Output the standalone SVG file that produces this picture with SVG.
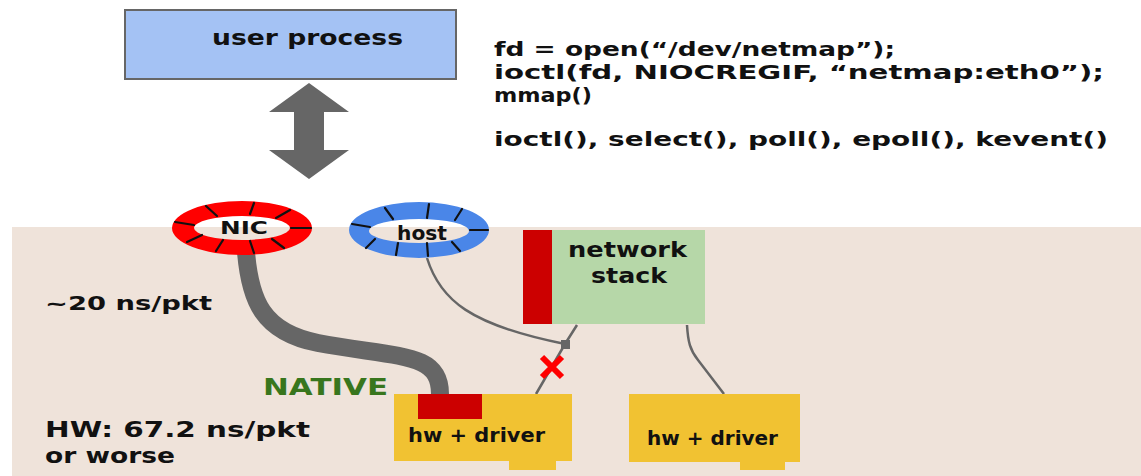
<svg xmlns="http://www.w3.org/2000/svg" width="1141" height="476" viewBox="0 0 1141 476">
<style>
text{font-family:"DejaVu Sans","Liberation Sans",sans-serif;font-weight:bold;fill:#111}
.ring-tick{stroke:#111;stroke-width:2.2;stroke-linecap:round}
.hw{fill:#f1c232}
.thin{fill:none;stroke:#666;stroke-width:2.5}
</style>
<rect x="0" y="0" width="1141" height="476" fill="#ffffff"/>
<rect id="kernel-area" x="12" y="227" width="1129" height="249" fill="#efe3da"/>

<g id="user-process">
<rect x="125" y="10" width="331" height="69" fill="#a4c2f4" stroke="#666" stroke-width="2"/>
<text x="212" y="45" font-size="21" textLength="191" lengthAdjust="spacingAndGlyphs">user process</text>
</g>

<g id="api-text">
<text x="494" y="56" font-size="19.5" textLength="401" lengthAdjust="spacingAndGlyphs">fd = open(“/dev/netmap”);</text>
<text x="494" y="79" font-size="19.5" textLength="610" lengthAdjust="spacingAndGlyphs">ioctl(fd, NIOCREGIF, “netmap:eth0”);</text>
<text x="494" y="102" font-size="19.5" textLength="98" lengthAdjust="spacingAndGlyphs">mmap()</text>
<text x="494" y="146" font-size="20" textLength="614" lengthAdjust="spacingAndGlyphs">ioctl(), select(), poll(), epoll(), kevent()</text>
</g>

<g id="connectors">
<polygon points="309,83 349,112 324,112 324,150 349,150 309,179 269,150 294,150 294,112 269,112" fill="#666"/>
<path d="M246 252 C250 300 262 332 318 343 C400 358 440 352 440 394" fill="none" stroke="#666" stroke-width="18"/>
<path class="thin" d="M427 258 C440 300 470 325 565 344"/>
<path class="thin" d="M577 325 L565 344 L536 394"/>
<path class="thin" d="M687 325 C688 342 690 350 698 360 L724 394"/>
<rect x="561" y="340" width="9" height="9" fill="#666"/>
<path d="M542 357 L562 377 M562 357 L542 377" stroke="#ff0000" stroke-width="6"/>
</g>

<g id="nic-ring">
<path d="M172,228 a70,27 0 1,0 140,0 a70,27 0 1,0 -140,0 Z M194,228 a48,12 0 1,0 96,0 a48,12 0 1,0 -96,0 Z" fill="#ff0000" fill-rule="evenodd"/>
<g class="ring-tick">
<line x1="194" y1="225" x2="175" y2="222"/>
<line x1="217" y1="216" x2="206" y2="206"/>
<line x1="250" y1="214" x2="254" y2="203"/>
<line x1="276" y1="218" x2="290" y2="210"/>
<line x1="291" y1="228" x2="311" y2="228"/>
<line x1="272" y1="239" x2="284" y2="248"/>
<line x1="250" y1="241" x2="254" y2="253"/>
<line x1="223" y1="240" x2="216" y2="251"/>
<line x1="202" y1="235" x2="187" y2="242"/>
</g>
<text x="220" y="234" font-size="18" textLength="48" lengthAdjust="spacingAndGlyphs">NIC</text>
</g>

<g id="host-ring">
<path d="M349,230 a70,28 0 1,0 140,0 a70,28 0 1,0 -140,0 Z M369,231 a50,12 0 1,0 100,0 a50,12 0 1,0 -100,0 Z" fill="#4a86e8" fill-rule="evenodd"/>
<g class="ring-tick">
<line x1="370" y1="227" x2="352" y2="224"/>
<line x1="393" y1="219" x2="385" y2="208"/>
<line x1="427" y1="218" x2="429" y2="204"/>
<line x1="455" y1="220" x2="462" y2="209"/>
<line x1="470" y1="230" x2="488" y2="230"/>
<line x1="452" y1="242" x2="460" y2="251"/>
<line x1="427" y1="243" x2="428" y2="256"/>
<line x1="398" y1="243" x2="396" y2="255"/>
<line x1="375" y1="239" x2="366" y2="248"/>
</g>
<text x="397" y="240" font-size="20" textLength="50" lengthAdjust="spacingAndGlyphs">host</text>
</g>

<g id="network-stack">
<rect x="523" y="230" width="182" height="94" fill="#b6d7a8"/>
<rect x="523" y="230" width="29" height="94" fill="#cc0000"/>
<text x="568" y="257" font-size="21" textLength="119" lengthAdjust="spacingAndGlyphs">network</text>
<text x="591" y="283" font-size="21" textLength="76" lengthAdjust="spacingAndGlyphs">stack</text>
</g>

<g id="hw-driver-1">
<rect class="hw" x="394" y="394" width="178" height="67"/>
<rect class="hw" x="509" y="461" width="47" height="9"/>
<rect x="418" y="394" width="64" height="25" fill="#cc0000"/>
<text x="408" y="442" font-size="19" textLength="137" lengthAdjust="spacingAndGlyphs">hw + driver</text>
</g>

<g id="hw-driver-2">
<rect class="hw" x="629" y="394" width="171" height="68"/>
<rect class="hw" x="740" y="462" width="45" height="8"/>
<text x="647" y="445" font-size="19" textLength="131" lengthAdjust="spacingAndGlyphs">hw + driver</text>
</g>

<g id="labels">
<text x="45" y="310" font-size="20" textLength="167" lengthAdjust="spacingAndGlyphs">~20 ns/pkt</text>
<text x="263" y="395" font-size="23" textLength="125" lengthAdjust="spacingAndGlyphs" style="fill:#38761d">NATIVE</text>
<text x="45" y="437" font-size="22" textLength="265" lengthAdjust="spacingAndGlyphs">HW: 67.2 ns/pkt</text>
<text x="45" y="463" font-size="22" textLength="130" lengthAdjust="spacingAndGlyphs">or worse</text>
</g>
</svg>
